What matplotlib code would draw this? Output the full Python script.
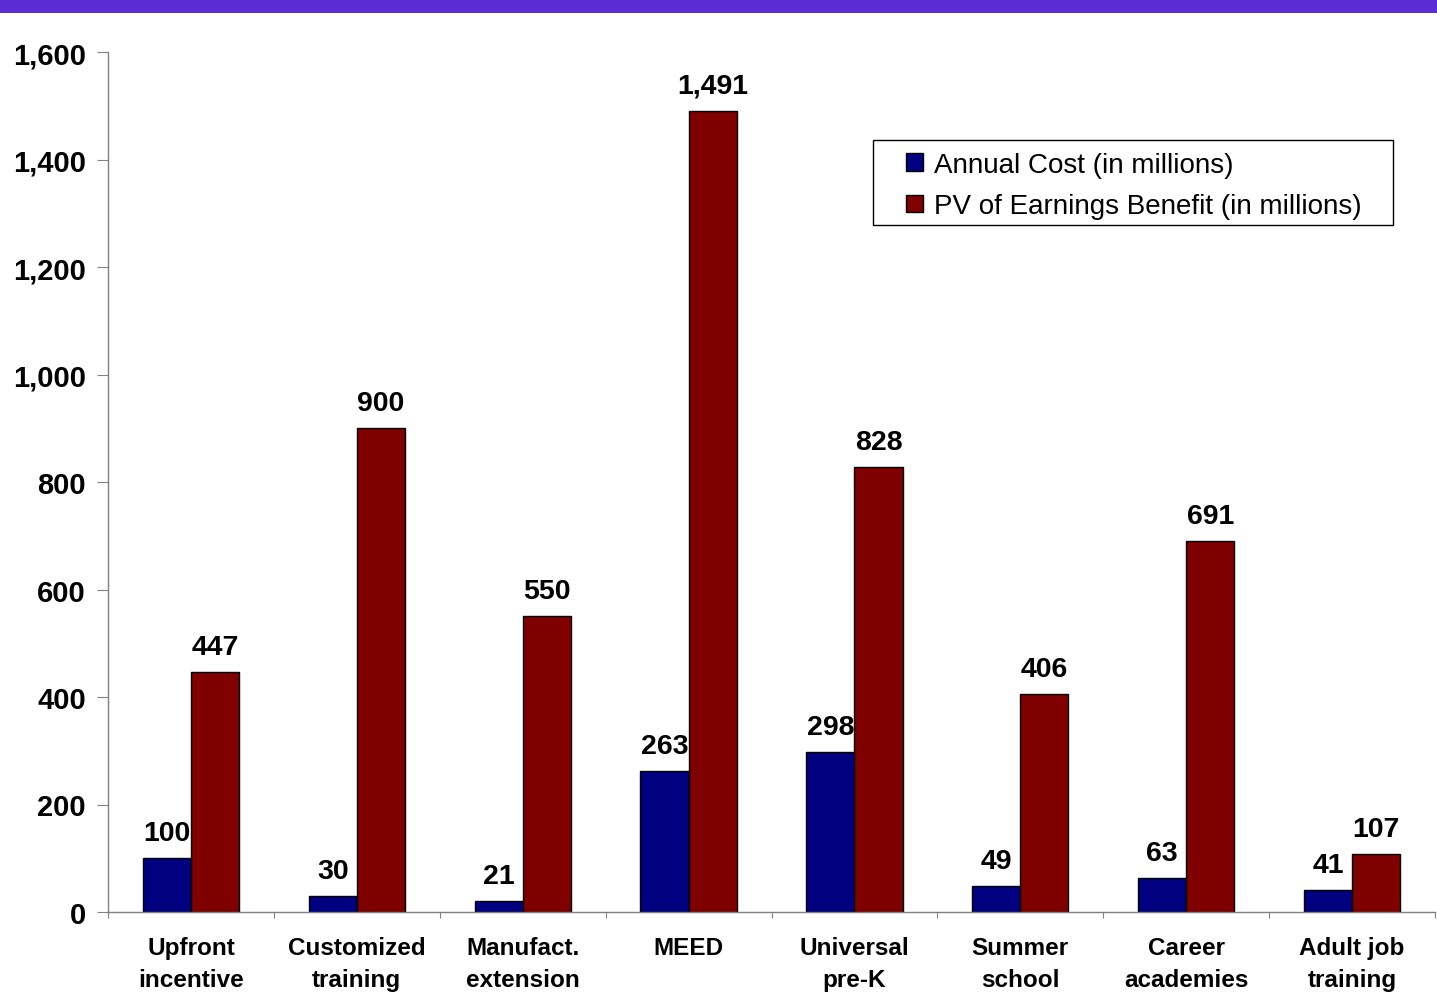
import matplotlib.pyplot as plt
from matplotlib.patches import Rectangle
from matplotlib.ticker import FuncFormatter
import numpy as np

plt.rcParams['font.family'] = ['Liberation Sans', 'DejaVu Sans']

categories = ['Upfront\nincentive', 'Customized\ntraining', 'Manufact.\nextension', 'MEED',
              'Universal\npre-K', 'Summer\nschool', 'Career\nacademies', 'Adult job\ntraining']
annual_cost = [100, 30, 21, 263, 298, 49, 63, 41]
pv_benefit = [447, 900, 550, 1491, 828, 406, 691, 107]
series_names = ['Annual Cost (in millions)', 'PV of Earnings Benefit (in millions)']

W, H = 1437, 995
fig = plt.figure(figsize=(W / 100, H / 100), dpi=100)

# purple band along the top
fig.patches.append(Rectangle((0, 1 - 14 / H), 1, 14 / H, transform=fig.transFigure,
                             facecolor='#5B2BD5', edgecolor='none'))

ax = fig.add_axes([108 / W, 82 / H, 1327 / W, 860 / H])

x = np.arange(len(categories))
bw = 0.29
b1 = ax.bar(x - bw / 2, annual_cost, bw, color='#000080', edgecolor='black', linewidth=1,
            label=series_names[0])
b2 = ax.bar(x + bw / 2, pv_benefit, bw, color='#800000', edgecolor='black', linewidth=1,
            label=series_names[1])

for bars, vals in ((b1, annual_cost), (b2, pv_benefit)):
    for rect, v in zip(bars, vals):
        ax.annotate(f'{v:,}', (rect.get_x() + rect.get_width() / 2, v),
                    xytext=(0, 12), textcoords='offset pixels', ha='center', va='bottom',
                    fontsize=20.5, fontweight='bold')

ax.set_xlim(-0.5, len(categories) - 0.5)
ax.set_ylim(0, 1600)
ax.set_yticks(range(0, 1601, 200))
ax.yaxis.set_major_formatter(FuncFormatter(lambda v, p: f'{v:,.0f}'))

ax.set_xticks(np.arange(-0.5, len(categories), 1))
ax.set_xticklabels([])
ax.set_xticks(x, minor=True)
ax.set_xticklabels(categories, minor=True, fontsize=17.5, fontweight='bold', linespacing=1.5)
ax.tick_params(axis='x', which='minor', length=0, pad=17)
ax.tick_params(axis='x', which='major', length=4, color='#808080', direction='out')
ax.tick_params(axis='y', length=8, color='#808080', labelsize=21, pad=8)
for lbl in ax.get_yticklabels():
    lbl.set_fontweight('bold')

for side in ('top', 'right'):
    ax.spines[side].set_visible(False)
for side in ('left', 'bottom'):
    ax.spines[side].set_color('#808080')
    ax.spines[side].set_linewidth(1)

# legend box drawn separately so the padding matches the original
fig.patches.append(Rectangle((873 / W, 1 - 226 / H), 520 / W, 85 / H, transform=fig.transFigure,
                             facecolor='white', edgecolor='black', linewidth=1, zorder=3))
leg = fig.legend(handles=[b1, b2], loc='upper left', bbox_to_anchor=(906 / W, 1 - 153 / H),
                 fontsize=20, frameon=False, handlelength=0.6, handleheight=0.6,
                 handletextpad=0.4, borderpad=0, labelspacing=0.55, borderaxespad=0)
leg.set_zorder(4)

fig.savefig('out.png', dpi=100)
